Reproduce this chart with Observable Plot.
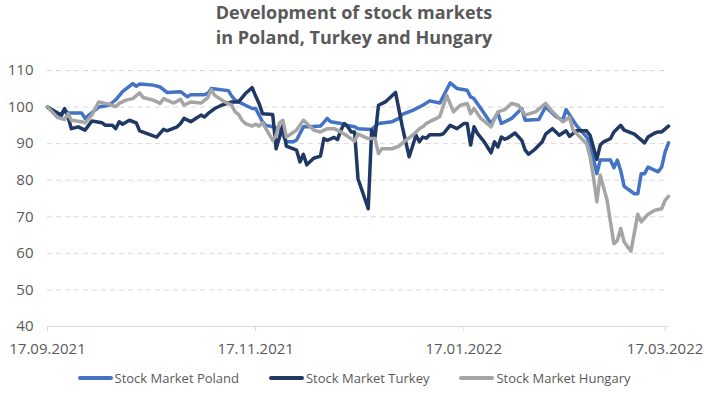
<!DOCTYPE html>
<html>
<head>
<meta charset="utf-8">
<script src="https://cdn.jsdelivr.net/npm/d3@7"></script>
<script src="https://cdn.jsdelivr.net/npm/@observablehq/plot@0.6"></script>
<style>
  html, body { margin: 0; padding: 0; background: #fff; }
  body { width: 708px; height: 393px; overflow: hidden; font-family: "Open Sans", sans-serif; }
  #title { height: 58px; text-align: center; font-weight: 700; font-size: 18px; line-height: 25px; color: #595959; }
  #legend { display: flex; justify-content: center; align-items: center; gap: 30px; height: 30px; font-size: 13px; color: #595959; }
  .item { display: flex; align-items: center; gap: 2px; }
  .sw { width: 35px; height: 4px; border-radius: 2px; }
</style>
</head>
<body>
<div id="title">Development of stock markets<br>in Poland, Turkey and Hungary</div>
<div id="chart"></div>
<div id="legend"></div>
<script>
const seriesNames = ["Stock Market Poland", "Stock Market Turkey", "Stock Market Hungary"];
const seriesColors = ["#4472C4", "#203864", "#A5A5A5"];
const xTickDates = ["2021-09-17", "2021-11-17", "2022-01-17", "2022-03-17"];
const yTicks = [40, 50, 60, 70, 80, 90, 100, 110];

const polandDates = ["2021-09-17","2021-09-19","2021-09-21","2021-09-22","2021-09-23","2021-09-27","2021-09-28","2021-10-02","2021-10-05","2021-10-07","2021-10-09","2021-10-12","2021-10-13","2021-10-14","2021-10-18","2021-10-20","2021-10-22","2021-10-26","2021-10-28","2021-10-29","2021-11-02","2021-11-03","2021-11-04","2021-11-09","2021-11-10","2021-11-11","2021-11-14","2021-11-16","2021-11-17","2021-11-19","2021-11-20","2021-11-22","2021-11-24","2021-11-26","2021-11-28","2021-11-29","2021-12-01","2021-12-03","2021-12-06","2021-12-08","2021-12-09","2021-12-12","2021-12-14","2021-12-16","2021-12-17","2021-12-21","2021-12-23","2021-12-27","2021-12-29","2021-12-30","2022-01-02","2022-01-05","2022-01-07","2022-01-10","2022-01-13","2022-01-15","2022-01-18","2022-01-19","2022-01-20","2022-01-22","2022-01-25","2022-01-27","2022-01-28","2022-01-31","2022-02-03","2022-02-04","2022-02-08","2022-02-10","2022-02-13","2022-02-15","2022-02-16","2022-02-19","2022-02-22","2022-02-23","2022-02-25","2022-02-26","2022-03-01","2022-03-02","2022-03-03","2022-03-04","2022-03-05","2022-03-08","2022-03-09","2022-03-10","2022-03-11","2022-03-12","2022-03-15","2022-03-16","2022-03-17","2022-03-18"];
const polandValues = [100,98.5,97.5,99.2,98.4,98.4,96.9,100,100.5,102,104.2,106.4,105.7,106.3,106,105.5,104,104.2,102.8,103.4,103.4,103.7,105.1,104.5,103,101.9,100.5,99.6,99.6,96,95,94.6,94.1,90.5,90.5,91,94.6,94.6,94.8,96.9,96,95.5,95,94.6,94.1,93.9,95.5,96,96.9,98,99.1,100.5,101.7,101.1,106.6,105.1,104.6,102.8,102.3,99.6,95.5,98.3,95.5,96.9,99.6,96.4,96.6,100.1,97.4,96.4,99.3,95,91.8,90,81.8,85.5,85.5,83.4,85.5,82.6,78.3,76.3,76.3,81.8,81.8,83.6,82.3,83.6,87.7,90.2];

const turkeyDates = ["2021-09-17","2021-09-21","2021-09-22","2021-09-23","2021-09-24","2021-09-26","2021-09-28","2021-09-30","2021-10-03","2021-10-04","2021-10-06","2021-10-07","2021-10-08","2021-10-09","2021-10-11","2021-10-13","2021-10-14","2021-10-16","2021-10-19","2021-10-21","2021-10-22","2021-10-25","2021-10-26","2021-10-27","2021-10-29","2021-10-30","2021-11-01","2021-11-02","2021-11-03","2021-11-05","2021-11-07","2021-11-10","2021-11-12","2021-11-14","2021-11-16","2021-11-17","2021-11-18","2021-11-19","2021-11-22","2021-11-23","2021-11-24","2021-11-25","2021-11-26","2021-11-29","2021-11-30","2021-12-01","2021-12-02","2021-12-04","2021-12-06","2021-12-07","2021-12-08","2021-12-10","2021-12-11","2021-12-12","2021-12-13","2021-12-14","2021-12-15","2021-12-16","2021-12-17","2021-12-20","2021-12-21","2021-12-22","2021-12-23","2021-12-25","2021-12-28","2021-12-30","2022-01-01","2022-01-03","2022-01-04","2022-01-05","2022-01-06","2022-01-07","2022-01-10","2022-01-11","2022-01-13","2022-01-15","2022-01-17","2022-01-18","2022-01-19","2022-01-20","2022-01-21","2022-01-23","2022-01-25","2022-01-26","2022-01-27","2022-01-28","2022-01-29","2022-01-30","2022-02-01","2022-02-03","2022-02-04","2022-02-05","2022-02-07","2022-02-09","2022-02-10","2022-02-12","2022-02-13","2022-02-14","2022-02-16","2022-02-17","2022-02-19","2022-02-22","2022-02-23","2022-02-24","2022-02-25","2022-02-26","2022-02-27","2022-03-01","2022-03-02","2022-03-04","2022-03-05","2022-03-08","2022-03-11","2022-03-12","2022-03-14","2022-03-15","2022-03-16","2022-03-18"];
const turkeyValues = [100,97.8,99.6,97.3,94.1,94.6,93.7,96.2,95.7,95,95,94.1,96,95.3,96.4,95.7,93.5,92.8,91.8,93.9,93.5,94.6,95.5,96.9,96,96.6,97.8,97.3,98.2,99.6,100.5,101.4,101.4,103.7,105.3,103,101,98.2,98,88.6,91.8,95,89.3,88.2,85,87.1,84.2,86,86.6,91.4,90.9,91.7,91.1,93.7,95.5,94.6,93.2,93.2,80.4,72.2,93.7,91.8,100.5,101.4,104,94.6,86.4,92.3,90.5,91.8,91.5,92.4,92.4,92.7,95,94.1,95.5,95.5,89.6,94.6,92.8,90.5,87.5,90.5,89.1,91.8,91.2,91.6,92.9,90.9,88.2,87.1,88.6,90.5,92.6,94.1,93.2,92.3,93.5,92,93.5,93.5,92.3,89,85.7,89.6,90.5,91.4,93.2,95,93.7,92.6,90.2,91.8,92.9,93.2,93.2,94.8];

const hungaryDates = ["2021-09-17","2021-09-20","2021-09-22","2021-09-23","2021-09-24","2021-09-27","2021-09-28","2021-09-30","2021-10-02","2021-10-05","2021-10-07","2021-10-08","2021-10-10","2021-10-12","2021-10-14","2021-10-15","2021-10-18","2021-10-20","2021-10-21","2021-10-24","2021-10-26","2021-10-27","2021-10-29","2021-11-01","2021-11-03","2021-11-04","2021-11-05","2021-11-08","2021-11-10","2021-11-11","2021-11-12","2021-11-13","2021-11-14","2021-11-16","2021-11-17","2021-11-18","2021-11-19","2021-11-20","2021-11-22","2021-11-23","2021-11-24","2021-11-25","2021-11-26","2021-11-29","2021-12-01","2021-12-04","2021-12-06","2021-12-08","2021-12-10","2021-12-12","2021-12-14","2021-12-16","2021-12-17","2021-12-20","2021-12-22","2021-12-23","2021-12-24","2021-12-27","2021-12-29","2021-12-31","2022-01-02","2022-01-04","2022-01-05","2022-01-06","2022-01-07","2022-01-09","2022-01-10","2022-01-12","2022-01-14","2022-01-16","2022-01-18","2022-01-19","2022-01-20","2022-01-22","2022-01-25","2022-01-27","2022-01-29","2022-01-31","2022-02-02","2022-02-04","2022-02-07","2022-02-10","2022-02-12","2022-02-15","2022-02-17","2022-02-18","2022-02-22","2022-02-23","2022-02-24","2022-02-25","2022-02-26","2022-02-28","2022-03-02","2022-03-03","2022-03-04","2022-03-05","2022-03-07","2022-03-09","2022-03-10","2022-03-12","2022-03-14","2022-03-16","2022-03-17","2022-03-18"];
const hungaryValues = [100,97.1,96.6,98.2,96.4,96,95.7,97.8,101.4,100.8,100.1,101,101.9,102.3,103.9,102.6,101.9,101,102.3,101.1,102.1,100.5,101.4,101.1,102.6,104.8,103.2,101.4,100.5,98.7,98,96.4,95.5,94.8,95.3,94.8,95.7,94.1,90.9,92.3,95.7,96.4,91.8,93.7,96.4,93.7,93.2,94.1,94.1,93.2,92,90.7,92.6,91.4,91.4,87.3,88.6,88.6,89.3,90.9,92.3,94.1,94.6,95.5,96,96.9,97.5,103.2,98.7,100.5,101,98.2,99.6,96.9,94.6,98.7,99.3,101,100.5,97.8,98.7,101,98.7,96,97.2,93.7,90,86.4,80.9,74.1,81.4,74.5,62.6,63.5,66.8,63.1,60.6,70.7,68.6,70.7,71.8,72.2,74.5,75.6];

const parse = d3.utcParse("%Y-%m-%d");
const fmt = d3.utcFormat("%d.%m.%Y");
const rows = [];
[[polandDates, polandValues], [turkeyDates, turkeyValues], [hungaryDates, hungaryValues]].forEach(([ds, vs], k) => {
  const n = Math.min(ds.length, vs.length);
  for (let i = 0; i < n; i++) rows.push({series: seriesNames[k], date: parse(ds[i]), value: vs[i]});
});

const chart = Plot.plot({
  width: 708,
  height: 305,
  marginTop: 12,
  marginBottom: 37,
  marginLeft: 47,
  marginRight: 40,
  style: {fontFamily: "'Open Sans', sans-serif", fontSize: "15px", color: "#595959", background: "#fff", overflow: "visible"},
  x: {type: "utc", domain: [parse("2021-09-17"), parse("2022-03-18")]},
  y: {domain: [40, 110]},
  color: {domain: seriesNames, range: seriesColors},
  marks: [
    Plot.gridY(yTicks.filter(t => t > 40), {stroke: "#d9d9d9", strokeOpacity: 1, strokeDasharray: "5,4"}),
    Plot.ruleY([40], {stroke: "#d9d9d9", strokeWidth: 1}),
    Plot.axisY(yTicks, {tickSize: 0, tickPadding: 14, label: null, fontSize: 15}),
    Plot.axisX(xTickDates.map(parse), {tickSize: 5, tickPadding: 12, stroke: "#d9d9d9", tickFormat: fmt, label: null, fontSize: 15}),
    Plot.line(rows, {x: "date", y: "value", z: "series", stroke: "series", strokeWidth: 3.5, strokeLinejoin: "round", strokeLinecap: "round"})
  ]
});
document.getElementById("chart").appendChild(chart);

const legend = document.getElementById("legend");
seriesNames.forEach((name, i) => {
  const item = document.createElement("div");
  item.className = "item";
  const sw = document.createElement("span");
  sw.className = "sw";
  sw.style.background = seriesColors[i];
  const label = document.createElement("span");
  label.textContent = name;
  item.appendChild(sw);
  item.appendChild(label);
  legend.appendChild(item);
});
</script>
</body>
</html>
